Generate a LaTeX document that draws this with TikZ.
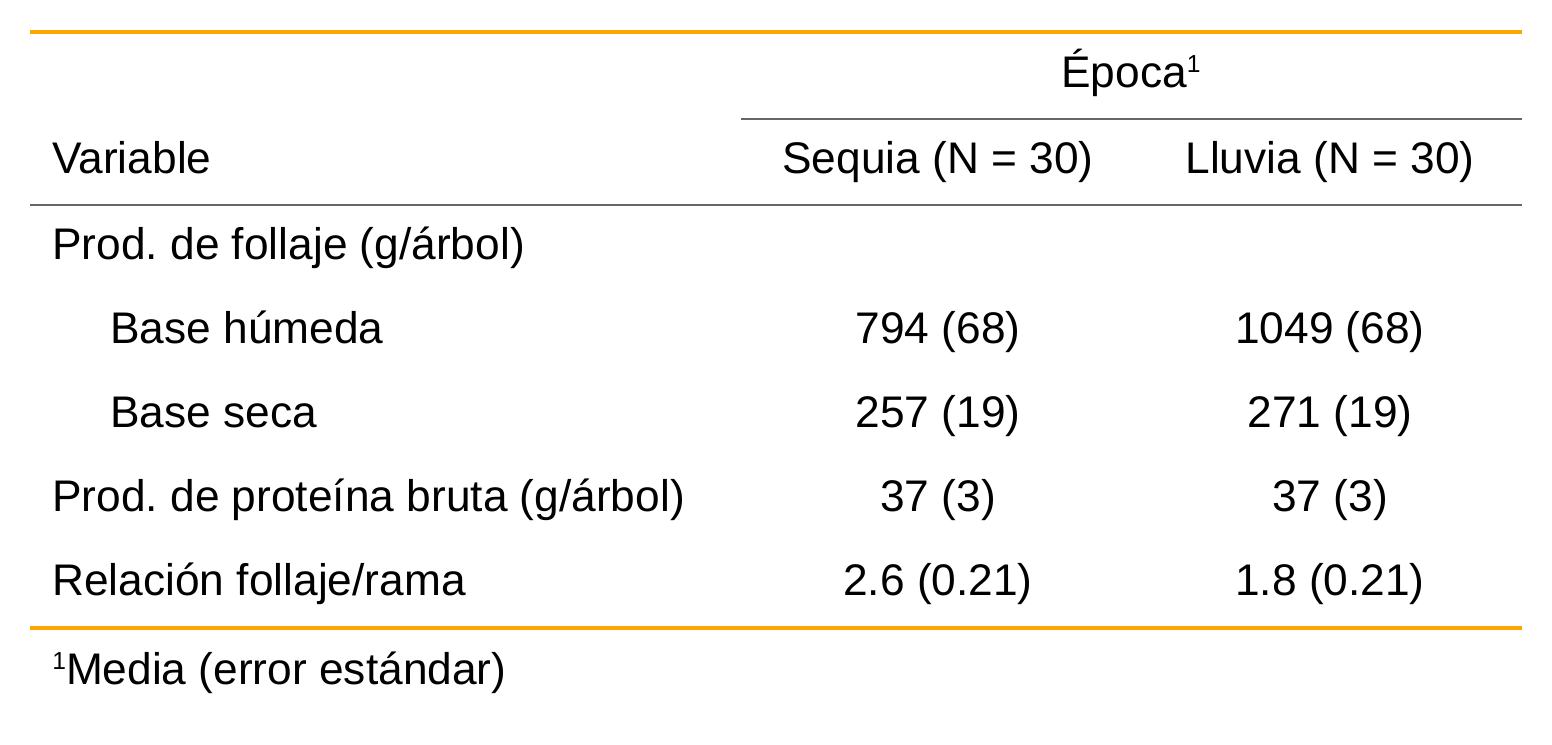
\documentclass[tikz,border=0pt]{standalone}
\usepackage{fontspec}
\setmainfont{Liberation Sans}
\frenchspacing
\definecolor{ruleorange}{HTML}{FFA500}
\definecolor{rulegray}{HTML}{666666}
\newcommand\supone{\raisebox{8.5pt}{\fontsize{14}{14}\selectfont 1}}
\begin{document}
\begin{tikzpicture}[x=0.02cm, y=-0.02cm, font=\fontsize{25.2}{29}\selectfont,
    cell/.style={inner sep=0pt, anchor=base},
    lab/.style={inner sep=0pt, anchor=base west},
    thick rule/.style={ruleorange, line width=2.3pt},
    thin rule/.style={rulegray, line width=1.15pt}]
\useasboundingbox (0,0) rectangle (1552,744);
% rules
\draw[thick rule] (30,32) -- (1522,32);
\draw[thin rule] (741,119) -- (1522,119);
\draw[thin rule] (30,205) -- (1522,205);
\draw[thick rule] (30,628) -- (1522,628);
% header
\node[cell] (epoca) at (1131,87) {Época\supone};
\node[lab] (var) at (52,173) {Variable};
\node[cell] (sequia) at (938,173) {Sequia (N = 30)};
\node[cell] (lluvia) at (1330,173) {Lluvia (N = 30)};
% row labels
\foreach \k/\x/\y/\t in {fol/52/259/{Prod. de follaje (g/árbol)}, hum/110/343/{Base húmeda},
    sec/110/427/{Base seca}, pro/52/511/{Prod. de proteína bruta (g/árbol)},
    rel/52/595/{Relación follaje/rama}}
    \node[lab] (\k) at (\x,\y) {\t};
% values
\foreach \k/\y/\a/\b in {hum/343/794 (68)/1049 (68), sec/427/257 (19)/271 (19),
    pro/511/37 (3)/37 (3), rel/595/2.6 (0.21)/1.8 (0.21)}
{
    \node[cell] (s\k) at (938,\y) {\a};
    \node[cell] (l\k) at (1330,\y) {\b};
}
% footnote
\node[lab] (nota) at (52,684) {\supone Media (error estándar)};
\end{tikzpicture}
\end{document}
